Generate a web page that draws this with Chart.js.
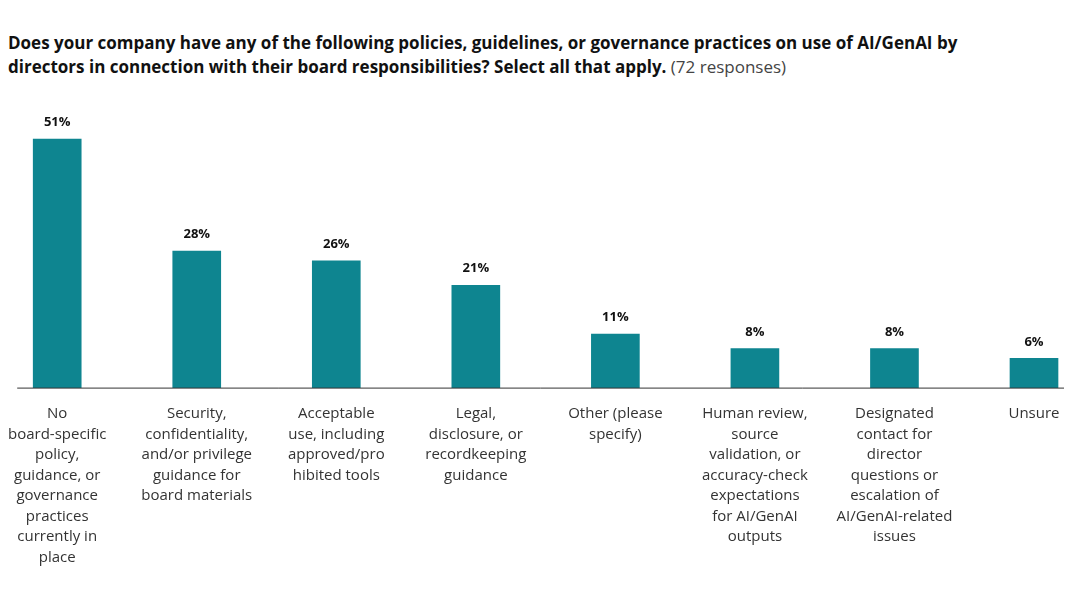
<!DOCTYPE html>
<html><head><meta charset="utf-8">
<script src="https://cdn.jsdelivr.net/npm/chart.js@4/dist/chart.umd.min.js"></script>
<style>
body{margin:0;background:#fff;font-family:"Open Sans",sans-serif;}
#title{position:absolute;left:8px;top:31px;width:1000px;font-size:17px;line-height:24px;color:#111;font-weight:700;}
#title span{font-weight:400;color:#444;}
#wrap{position:absolute;left:0;top:100px;width:1072px;height:480px;}
</style></head><body>
<div id="title">Does your company have any of the following policies, guidelines, or governance practices on use of AI/GenAI by directors in connection with their board responsibilities? Select all that apply. <span>(72 responses)</span></div>
<div id="wrap"><canvas id="c"></canvas></div>
<script>
const categories = [
  ["No","board-specific","policy,","guidance, or","governance","practices","currently in","place"],
  ["Security,","confidentiality,","and/or privilege","guidance for","board materials"],
  ["Acceptable","use, including","approved/pro","hibited tools"],
  ["Legal,","disclosure, or","recordkeeping","guidance"],
  ["Other (please","specify)"],
  ["Human review,","source","validation, or","accuracy-check","expectations","for AI/GenAI","outputs"],
  ["Designated","contact for","director","questions or","escalation of","AI/GenAI-related","issues"],
  ["Unsure"]
];
const values = [51, 28, 26, 21, 11, 8, 8, 6];

const extras = {
  id: 'extras',
  afterDatasetsDraw(chart) {
    const ctx = chart.ctx, x = chart.scales.x, y = chart.scales.y;
    ctx.save();
    ctx.strokeStyle = '#333'; ctx.lineWidth = 1;
    ctx.beginPath();
    ctx.moveTo(x.left - 40, y.bottom + 0.5); ctx.lineTo(x.right + 30, y.bottom + 0.5);
    ctx.stroke();
    ctx.fillStyle = '#111'; ctx.font = 'bold 13px "Open Sans"';
    ctx.textAlign = 'center'; ctx.textBaseline = 'bottom';
    chart.getDatasetMeta(0).data.forEach((b, i) => {
      ctx.fillText(values[i] + '%', b.x, b.y - 10);
    });
    ctx.restore();
  }
};

new Chart(document.getElementById('c'), {
  type: 'bar',
  data: { labels: categories, datasets: [{ data: values, backgroundColor: '#0e8590', barThickness: 48, clip: false }] },
  options: {
    responsive: true, maintainAspectRatio: false, animation: false,
    layout: { padding: { left: 54, right: 38, top: 0, bottom: 4 } },
    plugins: { legend: { display: false }, tooltip: { enabled: false } },
    scales: {
      x: { offset: false, grid: { display: false }, border: { display: false },
        ticks: { color: '#333', font: { size: 15, family: '"Open Sans"', lineHeight: 1.37 }, maxRotation: 0, autoSkip: false, padding: 8 } },
      y: { display: false, min: 0, max: 59 }
    }
  },
  plugins: [extras]
});
</script>
</body></html>
